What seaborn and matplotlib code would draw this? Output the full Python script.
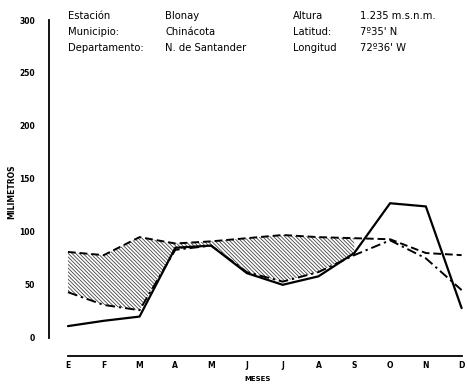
import matplotlib
matplotlib.use("Agg")
import matplotlib.pyplot as plt
import seaborn as sns
import numpy as np
import pandas as pd

meses = ["E", "F", "M", "A", "M", "J", "J", "A", "S", "O", "N", "D"]
precipitacion = [11, 16, 20, 85, 87, 61, 50, 58, 80, 127, 124, 28]
etp = [81, 78, 95, 89, 91, 94, 97, 95, 94, 93, 80, 78]
etr = [43, 31, 26, 83, 87, 62, 53, 62, 78, 92, 75, 45]
y_ticks = [0, 50, 100, 150, 200, 250, 300]

encabezado = [
    ("Estación", "Blonay", "Altura", "1.235 m.s.n.m."),
    ("Municipio:", "Chinácota", "Latitud:", "7º35' N"),
    ("Departamento:", "N. de Santander", "Longitud", "72º36' W"),
]

sns.set_style("white")
plt.rcParams["font.family"] = ["DejaVu Sans"]
plt.rcParams["hatch.linewidth"] = 0.6
plt.rcParams["hatch.color"] = "#444444"
plt.rcParams["text.color"] = "black"

W, H = 467, 388
fig = plt.figure(figsize=(W / 100, H / 100), dpi=100)
ax = fig.add_axes([49 / W, (H - 360) / H, (467 - 49) / W, (360 - 20) / H])

x = np.arange(len(meses))
df = pd.DataFrame({"mes": x, "P": precipitacion, "ETP": etp, "ETR": etr})

# hatched area between ETP and ETR (E .. S)
sub = df[df["mes"] <= 8]
ax.fill_between(sub["mes"], sub["ETR"], sub["ETP"], where=sub["ETP"] >= sub["ETR"],
                interpolate=True, facecolor="none", edgecolor="#444444",
                hatch="\\" * 9, linewidth=0)

sns.lineplot(data=df, x="mes", y="ETP", ax=ax, color="black", linewidth=1.4,
             linestyle=(0, (4, 2)))
sns.lineplot(data=df, x="mes", y="ETR", ax=ax, color="black", linewidth=1.4,
             linestyle=(0, (5, 2, 1.2, 2)))
sns.lineplot(data=df, x="mes", y="P", ax=ax, color="black", linewidth=1.6)

ax.set_xlim(-0.53, 11.15)
ax.set_ylim(-21, 300)

for s in ["top", "right"]:
    ax.spines[s].set_visible(False)
ax.spines["left"].set_bounds(0, 300)
ax.spines["bottom"].set_bounds(0, 11)
ax.spines["bottom"].set_position(("data", -17))
for s in ["left", "bottom"]:
    ax.spines[s].set_linewidth(1.3)
    ax.spines[s].set_color("black")

ax.set_yticks(y_ticks)
ax.set_yticklabels([str(v) for v in y_ticks], fontsize=5.5, fontweight="bold")
ax.set_xticks(x)
ax.set_xticklabels(meses, fontsize=5.5, fontweight="bold")
ax.tick_params(axis="y", direction="out", length=4, width=1, pad=6,
               colors="black", labelcolor="black")
ax.tick_params(axis="x", direction="in", length=4, width=1, pad=4,
               colors="black", labelcolor="black")
ax.set_xlabel("MESES", fontsize=5, fontweight="bold", labelpad=4, color="black")
ax.set_ylabel("")
fig.text(12 / W, 1 - 192 / H, "MILIMETROS", rotation=90, fontsize=5.5,
         fontweight="bold", ha="center", va="center", color="black")

cols = [68, 165, 293, 360]
rows = [16, 32, 48]
for r, fila in zip(rows, encabezado):
    for c, txt in zip(cols, fila):
        fig.text(c / W, 1 - r / H, txt, fontsize=7.2, ha="left", va="center",
                 color="black")

fig.savefig("out.png", dpi=100)
